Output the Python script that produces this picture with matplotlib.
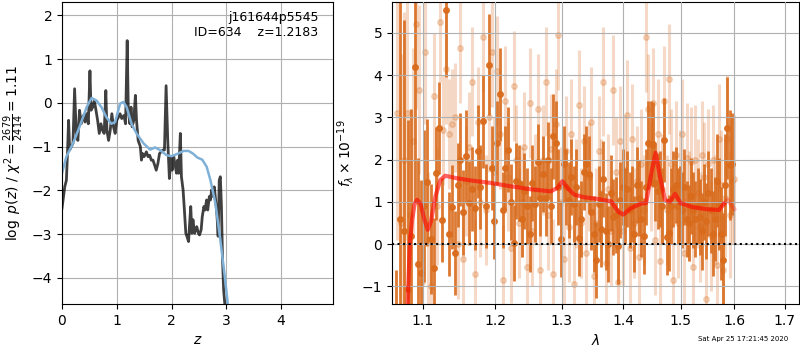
import numpy as np
import matplotlib
matplotlib.use('Agg')
import matplotlib.pyplot as plt

# p(z) curve (dark) and smoothed prior/fit (blue)
z_pz = [0.0, 0.05, 0.08, 0.10, 0.12, 0.14, 0.17, 0.20, 0.23, 0.26, 0.29, 0.32, 0.35, 0.39, 0.42,
        0.45, 0.48, 0.51, 0.53, 0.56, 0.59, 0.62, 0.65, 0.68, 0.71, 0.74, 0.77, 0.80, 0.82, 0.85,
        0.88, 0.91, 0.94, 0.97, 1.00, 1.03, 1.06, 1.09, 1.13, 1.16, 1.19, 1.21, 1.24, 1.26, 1.28,
        1.31, 1.34, 1.36, 1.39, 1.43, 1.45, 1.47, 1.50, 1.54, 1.57, 1.60, 1.63, 1.66, 1.69, 1.72,
        1.75, 1.78, 1.81, 1.84, 1.87, 1.90, 1.93, 1.96, 1.99, 2.01, 2.04, 2.06, 2.09, 2.11, 2.13,
        2.16, 2.18, 2.21, 2.23, 2.26, 2.28, 2.31, 2.33, 2.35, 2.37, 2.39, 2.42, 2.44, 2.46, 2.49,
        2.51, 2.54, 2.56, 2.59, 2.61, 2.64, 2.66, 2.69, 2.71, 2.73, 2.76, 2.78, 2.81, 2.83, 2.85,
        2.87, 2.89, 2.91, 2.93, 2.95, 2.98]
logp = [-2.41, -1.92, -1.77, -1.16, -0.40, -1.08, -1.00, -0.93, 0.32, -0.70, -0.86, -0.17, -0.48, -0.29, -0.44,
        -0.25, -0.48, 0.73, -0.17, -0.10, 0.05, -0.17, -0.40, -0.70, -0.48, -0.63, -0.70, 0.28, -0.63, -0.86,
        -0.63, -0.25, -0.55, -0.70, -0.40, -0.33, -0.25, -0.36, -0.29, -0.48, 1.42, -0.17, -0.48, -0.10, -0.55,
        -0.40, 0.17, -0.40, -0.86, -1.00, -1.31, -1.16, -1.23, -1.12, -1.23, -1.20, -1.31, -1.31, -1.42, -1.54,
        -1.39, -1.16, -1.12, -1.08, -1.08, 0.39, -0.86, -1.73, -1.23, -1.54, -1.23, -1.39, -1.61, -1.31, -1.61,
        -0.70, -1.69, -1.99, -2.37, -2.98, -3.05, -3.17, -2.75, -2.37, -2.98, -2.67, -2.98, -2.90, -2.83, -2.98,
        -3.02, -2.90, -2.60, -2.37, -2.45, -2.22, -2.45, -2.14, -2.22, -1.99, -2.14, -1.92, -2.30, -2.60, -3.05,
        -1.77, -1.69, -2.37, -3.58, -4.27, -4.72]

z_fit = [0.0, 0.08, 0.20, 0.32, 0.45, 0.54, 0.63, 0.72, 0.81, 0.90, 0.97, 1.06, 1.12, 1.18, 1.27, 1.36,
         1.49, 1.61, 1.70, 1.79, 1.91, 2.00, 2.10, 2.22, 2.31, 2.39, 2.47, 2.56, 2.64, 2.71, 2.80, 2.89,
         2.97, 3.03, 3.10]
logp_fit = [-1.61, -1.23, -0.93, -0.55, -0.10, 0.11, 0.05, -0.10, -0.33, -0.48, -0.44, -0.02, 0.02, -0.10,
            -0.48, -0.70, -0.93, -1.07, -1.02, -1.08, -1.20, -1.22, -1.17, -1.10, -1.10, -1.16, -1.25, -1.30,
            -1.46, -1.77, -2.30, -3.13, -3.96, -4.64, -5.40]

# spectrum, first set (dark points)
wave1 = [1.065, 1.070, 1.075, 1.080, 1.085, 1.090, 1.094, 1.098, 1.102, 1.106, 1.111, 1.115, 1.118, 1.122,
         1.126, 1.131, 1.135, 1.139, 1.143, 1.147, 1.151, 1.155, 1.159, 1.163, 1.167, 1.171, 1.175, 1.179,
         1.183, 1.187, 1.191, 1.195, 1.199, 1.203, 1.207, 1.211, 1.215, 1.219, 1.223, 1.227, 1.231, 1.235,
         1.239, 1.243, 1.247, 1.251, 1.255, 1.259, 1.263, 1.267, 1.271, 1.275, 1.279, 1.283, 1.287, 1.291,
         1.295, 1.299, 1.303, 1.307, 1.311, 1.315, 1.319, 1.323, 1.327, 1.331, 1.335, 1.339, 1.343, 1.347,
         1.351, 1.355, 1.359, 1.363, 1.367, 1.371, 1.375, 1.379, 1.383, 1.387, 1.391, 1.395, 1.399, 1.403,
         1.407, 1.411, 1.415, 1.419, 1.423, 1.427, 1.431, 1.435, 1.439, 1.443, 1.447, 1.451, 1.455, 1.459,
         1.463, 1.467, 1.471, 1.475, 1.479, 1.483, 1.487, 1.491, 1.495, 1.499, 1.503, 1.507, 1.511, 1.515,
         1.519, 1.523, 1.527, 1.531, 1.535, 1.539, 1.543, 1.547, 1.551, 1.555, 1.559, 1.563, 1.567, 1.571,
         1.575, 1.579, 1.583, 1.587, 1.591, 1.595]
flux1 = [-1.60, 0.60, 0.30, -1.07, 0.20, 4.19, -0.47, -0.69, 0.90, 1.46, 0.13, -0.57, 1.68, 2.75,
         0.57, 5.55, 0.24, 0.88, -0.21, 1.40, 2.00, 0.75, 2.08, 0.97, 1.30, 0.85, 2.20, 1.35,
         2.91, 0.90, 4.25, 1.80, 0.55, 2.39, 3.55, 0.81, 1.80, 2.24, 1.00, 0.02, 1.50, 1.45,
         0.60, 1.25, 0.90, 0.25, 1.45, 0.95, 1.95, 1.10, 1.65, 1.10, 2.00, 0.90, 2.55, 2.40,
         1.35, 0.12, 1.90, 1.35, 1.05, 1.60, 0.95, 1.35, 0.15, 0.60, 1.70, 1.90, 1.65, 0.75,
         0.25, -0.37, 0.95, 0.35, 1.55, 0.30, 0.00, 1.20, 0.65, 0.70, -0.05, 1.05, 1.35, 0.90,
         1.30, 0.80, 0.95, 0.25, 1.40, 1.10, 0.60, 0.20, 1.35, 2.39, 2.38, 2.36, 1.45, 1.25,
         1.30, 0.90, 2.47, 0.18, 0.26, 0.90, 1.30, 1.40, 0.90, 0.95, 0.80, 1.35, 0.60, 0.50,
         1.15, 0.80, 0.60, 0.90, 0.65, 0.30, 1.00, 0.55, 1.20, 0.80, 0.25, 0.60, 1.50, 0.95,
         0.25, -0.37, 1.40, 2.75, 1.88, 1.90]
err1 = [1.0, 5.5, 5.0, 4.0, 3.0, 3.2, 2.5, 2.2, 1.8, 1.5, 1.3, 1.2, 1.1, 1.1,
        1.0, 1.6, 1.0, 1.0, 1.0, 1.0, 1.1, 1.0, 1.1, 1.0, 1.0, 1.0, 1.1, 1.0,
        1.1, 1.0, 1.2, 1.0, 0.9, 1.0, 1.1, 0.9, 1.0, 1.0, 0.9, 0.9, 0.9, 0.9,
        0.9, 0.9, 0.9, 0.9, 0.9, 0.9, 0.9, 0.9, 0.9, 0.9, 0.9, 0.9, 1.0, 1.0,
        0.9, 0.9, 0.9, 0.9, 0.9, 0.9, 0.9, 0.9, 0.9, 0.9, 0.9, 0.9, 0.9, 0.9,
        0.9, 0.9, 0.9, 0.9, 0.9, 0.9, 0.9, 0.9, 0.9, 0.9, 0.9, 0.9, 0.9, 0.9,
        0.9, 0.9, 0.9, 0.9, 0.9, 0.9, 0.9, 0.9, 0.9, 1.0, 1.0, 1.0, 0.9, 0.9,
        0.9, 0.9, 1.0, 0.9, 0.9, 0.9, 0.9, 0.9, 0.9, 0.9, 0.9, 0.9, 0.9, 0.9,
        0.9, 0.9, 0.9, 0.9, 0.9, 0.9, 0.9, 0.9, 1.0, 1.0, 1.0, 1.0, 1.1, 1.1,
        1.1, 1.1, 1.2, 1.2, 1.3, 1.2]

# spectrum, second set (faint points)
wave2 = [1.067, 1.071, 1.075, 1.079, 1.083, 1.087, 1.091, 1.095, 1.099, 1.103, 1.107, 1.111, 1.115, 1.119,
         1.123, 1.127, 1.131, 1.135, 1.139, 1.143, 1.147, 1.151, 1.155, 1.159, 1.163, 1.167, 1.171, 1.175,
         1.179, 1.183, 1.187, 1.191, 1.195, 1.199, 1.203, 1.207, 1.211, 1.215, 1.219, 1.223, 1.227, 1.231,
         1.235, 1.239, 1.243, 1.247, 1.251, 1.255, 1.259, 1.263, 1.267, 1.271, 1.275, 1.279, 1.283, 1.287,
         1.291, 1.295, 1.299, 1.303, 1.307, 1.311, 1.315, 1.319, 1.323, 1.327, 1.331, 1.335, 1.339, 1.343,
         1.347, 1.351, 1.355, 1.359, 1.363, 1.367, 1.371, 1.375, 1.379, 1.383, 1.387, 1.391, 1.395, 1.399,
         1.403, 1.407, 1.411, 1.415, 1.419, 1.423, 1.427, 1.431, 1.435, 1.439, 1.443, 1.447, 1.451, 1.455,
         1.459, 1.463, 1.467, 1.471, 1.475, 1.479, 1.483, 1.487, 1.491, 1.495, 1.499, 1.503, 1.507, 1.511,
         1.515, 1.519, 1.523, 1.527, 1.531, 1.535, 1.539, 1.543, 1.547, 1.551, 1.555, 1.559, 1.563, 1.567,
         1.571, 1.575, 1.579, 1.583, 1.587, 1.591, 1.595, 1.600]
flux2 = [3.10, 0.50, 2.00, 3.10, 0.70, 2.45, 5.20, 3.65, -0.90, 4.55, 0.10, -1.00, 3.50, 0.90,
         5.25, 2.70, 4.15, 2.60, 2.85, 3.00, 0.00, 4.65, -0.35, 1.50, 2.30, 3.85, -0.70, 2.90,
         1.00, 4.90, 0.80, 3.00, 4.55, 1.70, 4.10, 2.60, -0.85, 3.40, 1.60, -0.10, 3.75, 2.00,
         0.50, 1.00, 2.30, -0.55, 3.35, 0.30, 1.30, 3.20, -0.60, 2.00, 3.85, 0.70, 2.25, -0.70,
         2.85, 4.95, 1.00, -0.35, 2.20, 0.40, 2.60, -0.95, 1.20, 3.30, 0.50, 2.45, -0.20, 1.60,
         2.90, -0.75, 0.50, 2.20, 1.20, 3.85, -0.45, 1.30, 0.30, 3.65, 1.70, -0.90, 2.45, 0.30,
         1.75, 3.05, -0.10, 2.50, 0.50, 1.50, -0.30, 1.90, 0.80, 4.90, 3.20, 1.60, 3.35, 0.10,
         2.60, -0.40, 1.30, 3.40, 0.80, 3.90, 1.90, -0.85, 2.10, 0.50, 1.40, 2.60, -0.20, 2.05,
         0.90, 1.95, -0.55, 2.00, 1.20, 0.40, 2.10, 1.60, -1.30, 1.90, 0.20, 2.00, 0.80, -0.50,
         2.50, 1.40, -0.60, 1.10, 2.50, 0.70, 1.50, 1.55]
err2 = [3.0, 4.0, 3.5, 3.0, 2.5, 2.2, 2.0, 2.0, 1.8, 1.7, 1.6, 1.5, 1.5, 1.4,
        1.4, 1.3, 1.3, 1.3, 1.3, 1.3, 1.3, 1.3, 1.3, 1.3, 1.3, 1.3, 1.3, 1.3,
        1.3, 1.3, 1.3, 1.3, 1.3, 1.3, 1.3, 1.3, 1.3, 1.3, 1.3, 1.3, 1.3, 1.3,
        1.3, 1.3, 1.3, 1.3, 1.3, 1.3, 1.3, 1.3, 1.3, 1.3, 1.3, 1.3, 1.3, 1.3,
        1.3, 1.3, 1.3, 1.3, 1.3, 1.3, 1.3, 1.3, 1.3, 1.3, 1.3, 1.3, 1.3, 1.3,
        1.3, 1.3, 1.3, 1.3, 1.3, 1.3, 1.3, 1.3, 1.3, 1.3, 1.3, 1.3, 1.3, 1.3,
        1.3, 1.3, 1.3, 1.3, 1.3, 1.3, 1.3, 1.3, 1.3, 1.3, 1.3, 1.3, 1.3, 1.3,
        1.3, 1.3, 1.3, 1.3, 1.3, 1.3, 1.3, 1.3, 1.3, 1.3, 1.3, 1.3, 1.3, 1.3,
        1.3, 1.3, 1.3, 1.3, 1.3, 1.3, 1.3, 1.3, 1.3, 1.3, 1.3, 1.3, 1.3, 1.3,
        1.3, 1.3, 1.4, 1.4, 1.5, 1.5, 1.5, 1.5]

# best-fit model
wave_mod = [1.0780, 1.083, 1.086, 1.089, 1.0925, 1.0969, 1.1022, 1.1066, 1.111, 1.1168, 1.1235, 1.1302,
            1.146, 1.1645, 1.1933, 1.2227, 1.2524, 1.2829, 1.2933, 1.3012, 1.3091, 1.320, 1.336, 1.358,
            1.380, 1.3914, 1.400, 1.413, 1.430, 1.439, 1.448, 1.4556, 1.4632, 1.4721, 1.481, 1.490, 1.500,
            1.521, 1.546, 1.571, 1.580]
flux_mod = [-2.5, 0.02, 0.58, 0.93, 1.05, 0.96, 0.58, 0.34, 0.54, 1.13, 1.52, 1.62,
            1.56, 1.51, 1.45, 1.37, 1.30, 1.25, 1.33, 1.49, 1.33, 1.17, 1.11, 1.07,
            1.01, 0.77, 0.70, 0.85, 0.96, 0.97, 1.68, 2.16, 1.60, 1.05, 1.01, 1.19, 0.97,
            0.88, 0.83, 0.81, 0.95]
wave_mod_end = [1.580, 1.587, 1.600]
flux_mod_end = [0.95, 1.05, 0.83]

fig = plt.figure(figsize=(8, 3.5), dpi=100)

ax1 = fig.add_axes([0.0775, 0.131, 0.339, 0.863])
ax1.plot(z_pz, logp, color='k', alpha=0.75, lw=2)
ax1.plot(z_fit, logp_fit, color='#7fb1d8', lw=1.8)
ax1.set_xlim(0, 4.95)
ax1.set_ylim(-4.6, 2.3)
ax1.set_xticks([0, 1, 2, 3, 4])
ax1.grid()
ax1.set_xlabel('$z$')
ax1.set_ylabel(r'$\log\ p(z)$ / $\chi^2=\frac{2679}{2414}=1.11$')
ax1.text(0.945, 0.97, 'j161644p5545\nID=634    z=1.2183', transform=ax1.transAxes,
         ha='right', va='top', fontsize=9)

ax2 = fig.add_axes([0.49, 0.131, 0.509, 0.863])
ax2.errorbar(wave2, flux2, yerr=err2, color='#d96b1c', alpha=0.25, marker='o', ms=4,
             linestyle='None', elinewidth=2.2, capsize=0)
ax2.errorbar(wave1, flux1, yerr=err1, color='#d96b1c', alpha=0.9, marker='o', ms=4,
             linestyle='None', elinewidth=2, capsize=0)
ax2.plot(wave_mod, flux_mod, color='r', alpha=0.6, lw=3, zorder=5)
ax2.plot(wave_mod_end, flux_mod_end, color='r', alpha=0.25, lw=3, zorder=5)
ax2.axhline(0, color='k', linestyle=':', lw=1.5, zorder=6)
ax2.set_xscale('log')
ax2.set_xlim(1.06, 1.73)
ax2.set_ylim(-1.42, 5.73)
ax2.set_xticks([1.1, 1.2, 1.3, 1.4, 1.5, 1.6, 1.7])
ax2.set_xticklabels(['1.1', '1.2', '1.3', '1.4', '1.5', '1.6', '1.7'])
ax2.minorticks_off()
ax2.set_axisbelow(False)
ax2.grid()
ax2.set_xlabel(r'$\lambda$')
ax2.set_ylabel(r'$f_\lambda\times10^{-19}$')

fig.text(0.985, 0.022, 'Sat Apr 25 17:21:45 2020', ha='right', va='bottom', fontsize=5)

fig.savefig('out.png', dpi=100)
